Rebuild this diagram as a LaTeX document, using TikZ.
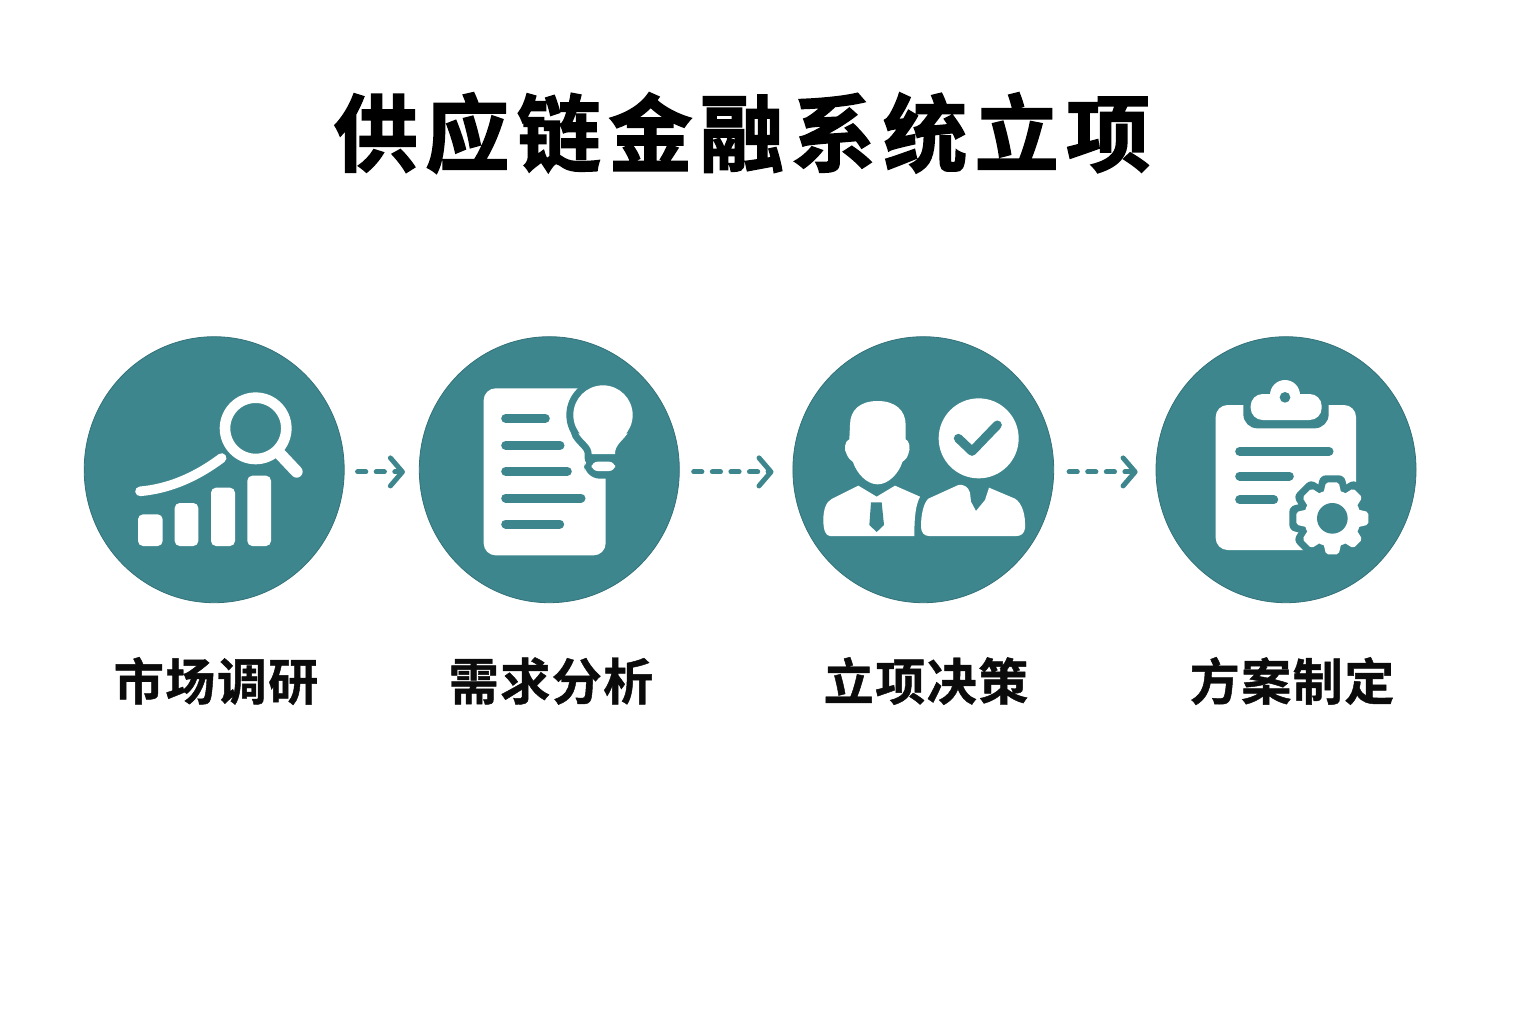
\documentclass[tikz,border=0pt]{standalone}
\usepackage{fontspec}
\usetikzlibrary{arrows.meta,shapes.geometric}
\setmainfont{Noto Sans CJK SC}
\newfontfamily\titlefont{Noto Sans CJK SC}[UprightFont={* Bold},UprightFeatures={FakeBold=2.0,LetterSpace=9}]
\newfontfamily\labelfont{Noto Sans CJK SC}[UprightFont={* Bold},UprightFeatures={FakeBold=0.9,LetterSpace=3}]
\definecolor{tealc}{HTML}{3D868E}
\definecolor{inkc}{HTML}{0B0B0B}
\tikzset{
  disc/.style={ellipse,fill=tealc,draw=tealc!85!black,line width=0.4pt,inner sep=0pt,minimum width=130pt,minimum height=133pt},
  steplabel/.style={inner sep=0pt,text=inkc,font=\labelfont\fontsize{25}{27}\selectfont},
  flow/.style={draw=tealc,line width=2.5pt,line cap=round,dash pattern=on 4.1pt off 5.2pt,
    -{Straight Barb[length=6pt,width=14pt,line width=2.5pt,round]}},
  cut/.style={draw=tealc,line cap=round,line width=4.5pt},
}
\begin{document}
\begin{tikzpicture}[x=0.5pt,y=-0.5pt]
\useasboundingbox (0,0) rectangle (1536,1024);
\fill[white] (0,0) rectangle (1536,1024);
\node[inner sep=0pt,text=black,font=\titlefont\fontsize{42}{46}\selectfont] (title) at (742,133) {供应链金融系统立项};
\node[disc] (c1) at (214.2,469.7) {};
\node[disc] (c2) at (549.3,469.7) {};
\node[disc,minimum width=130.4pt] (c3) at (923.3,469.7) {};
\node[disc] (c4) at (1286,469.7) {};
\node[steplabel] (l1) at (216,681) {市场调研};
\node[steplabel] (l2) at (551,681) {需求分析};
\node[steplabel] (l3) at (926,681) {立项决策};
\node[steplabel] (l4) at (1292,681) {方案制定};
\draw[flow] ([xshift=6.5pt,yshift=-1.1pt]c1.east) -- ([xshift=-7pt,yshift=-1.1pt]c2.west);
\draw[flow] ([xshift=7pt,yshift=-1.1pt]c2.east) -- ([xshift=-9.5pt,yshift=-1.1pt]c3.west);
\draw[flow] ([xshift=7.5pt,yshift=-1.1pt]c3.east) -- ([xshift=-9pt,yshift=-1.1pt]c4.west);

% icon 1
\begin{scope}[shift={(70,330)},scale=1/3]
\fill[white,rounded corners=2.5pt] (204,553) rectangle (278,648);
\fill[white,rounded corners=2.5pt] (314,519) rectangle (385,648);
\fill[white,rounded corners=2.5pt] (423,473) rectangle (495,648);
\fill[white,rounded corners=2.5pt] (532,437) rectangle (603,648);
\draw[white,line width=4.8pt,line cap=round] (210,484) .. controls (300,476) and (380,440) .. (455,384);
\draw[white,line width=5.3pt] (557,295) circle (92);
\draw[white,line width=6pt,line cap=round] (630,372) -- (680,425);
\end{scope}

% icon 2
\begin{scope}[shift={(410,330)},scale=1/3]
\fill[white,rounded corners=6pt] (221,175) rectangle (587,676);
\foreach \yy/\xe in {265/406,346/450,424/472,504/513,582/449}
  \draw[cut] (287,\yy) -- (\xe,\yy);
\fill[tealc,rounded corners=8pt] (522,375) rectangle (640,446);
\fill[tealc] (579,255) circle (110);
\draw[tealc,fill=tealc,line width=7pt,line join=round] (545,385) -- (545,372) .. controls (545,345) and (520,335) .. (505,310) -- (653,310) .. controls (635,335) and (615,345) .. (615,372) -- (615,385) -- cycle;
\fill[white] (579,255) circle (89);
\fill[white] (545,372) .. controls (545,345) and (520,335) .. (505,310) -- (653,310) .. controls (635,335) and (615,345) .. (615,372) -- cycle;
\fill[white,rounded corners=3pt] (545,395) -- (615,395) -- (615,423) -- (545,423) -- cycle;
\end{scope}

% icon 3
\begin{scope}[shift={(785,330)},scale=1/3]
\fill[white] (278,213) .. controls (225,213) and (195,240) .. (195,285)
  -- (193,328) .. controls (180,330) and (175,360) .. (186,375)
  .. controls (192,388) and (198,390) .. (204,396)
  .. controls (215,430) and (245,463) .. (278,463)
  .. controls (310,463) and (342,430) .. (352,396)
  .. controls (360,390) and (366,385) .. (370,372)
  .. controls (378,355) and (372,330) .. (362,328)
  -- (362,285) .. controls (362,240) and (330,213) .. (278,213) -- cycle;
\fill[white] (220,467) -- (275,500) -- (330,467) -- (405,500)
  .. controls (392,525) and (388,560) .. (388,618)
  -- (135,618) .. controls (122,618) and (115,600) .. (115,570)
  .. controls (115,535) and (125,515) .. (140,507) -- cycle;
\fill[tealc] (258,517) -- (290,517) -- (297,585) -- (275,606) -- (253,585) -- cycle;
\fill[white] (581,325) circle (120);
\draw[tealc,line width=4.5pt,line cap=round,line join=round] (520,325) -- (561,364) -- (637,285);
\fill[white] (430,506) -- (520,465) .. controls (535,462) and (550,470) .. (555,488)
  -- (558,515) -- (573,543) -- (600,510) -- (612,473)
  -- (690,506) .. controls (712,520) and (722,555) .. (720,595)
  .. controls (718,610) and (708,618) .. (695,618)
  -- (432,618) .. controls (418,618) and (408,608) .. (408,590)
  .. controls (408,555) and (415,520) .. (430,506) -- cycle;
\end{scope}

% icon 4
\begin{scope}[shift={(1150,330)},scale=1/3]
\fill[white,rounded corners=6pt] (197,225) rectangle (618,660);
\foreach \yy/\xe in {364/537,438/418,509/371}
  \draw[cut] (269,\yy) -- (\xe,\yy);
\fill[tealc,rounded corners=7pt] (280,180) rectangle (536,295);
\fill[tealc] (405,195) circle (60);
\fill[white,rounded corners=6pt] (302,192) rectangle (515,270);
\fill[white] (405,195) circle (45);
\fill[tealc] (405,202) circle (16);
\begin{scope}[shift={(547,565)}]
\foreach \a in {0,45,...,315}
  \draw[tealc,fill=tealc,line width=7pt,line join=round,rotate=\a] (-28,-70) -- (-19,-108) -- (19,-108) -- (28,-70) -- cycle;
\fill[tealc] (0,0) circle (106);
\foreach \a in {0,45,...,315}
  \fill[white,rounded corners=1pt,rotate=\a] (-28,-70) -- (-19,-108) -- (19,-108) -- (28,-70) -- cycle;
\fill[white] (0,0) circle (85);
\fill[tealc] (0,0) circle (46);
\end{scope}
\end{scope}
\end{tikzpicture}
\end{document}
